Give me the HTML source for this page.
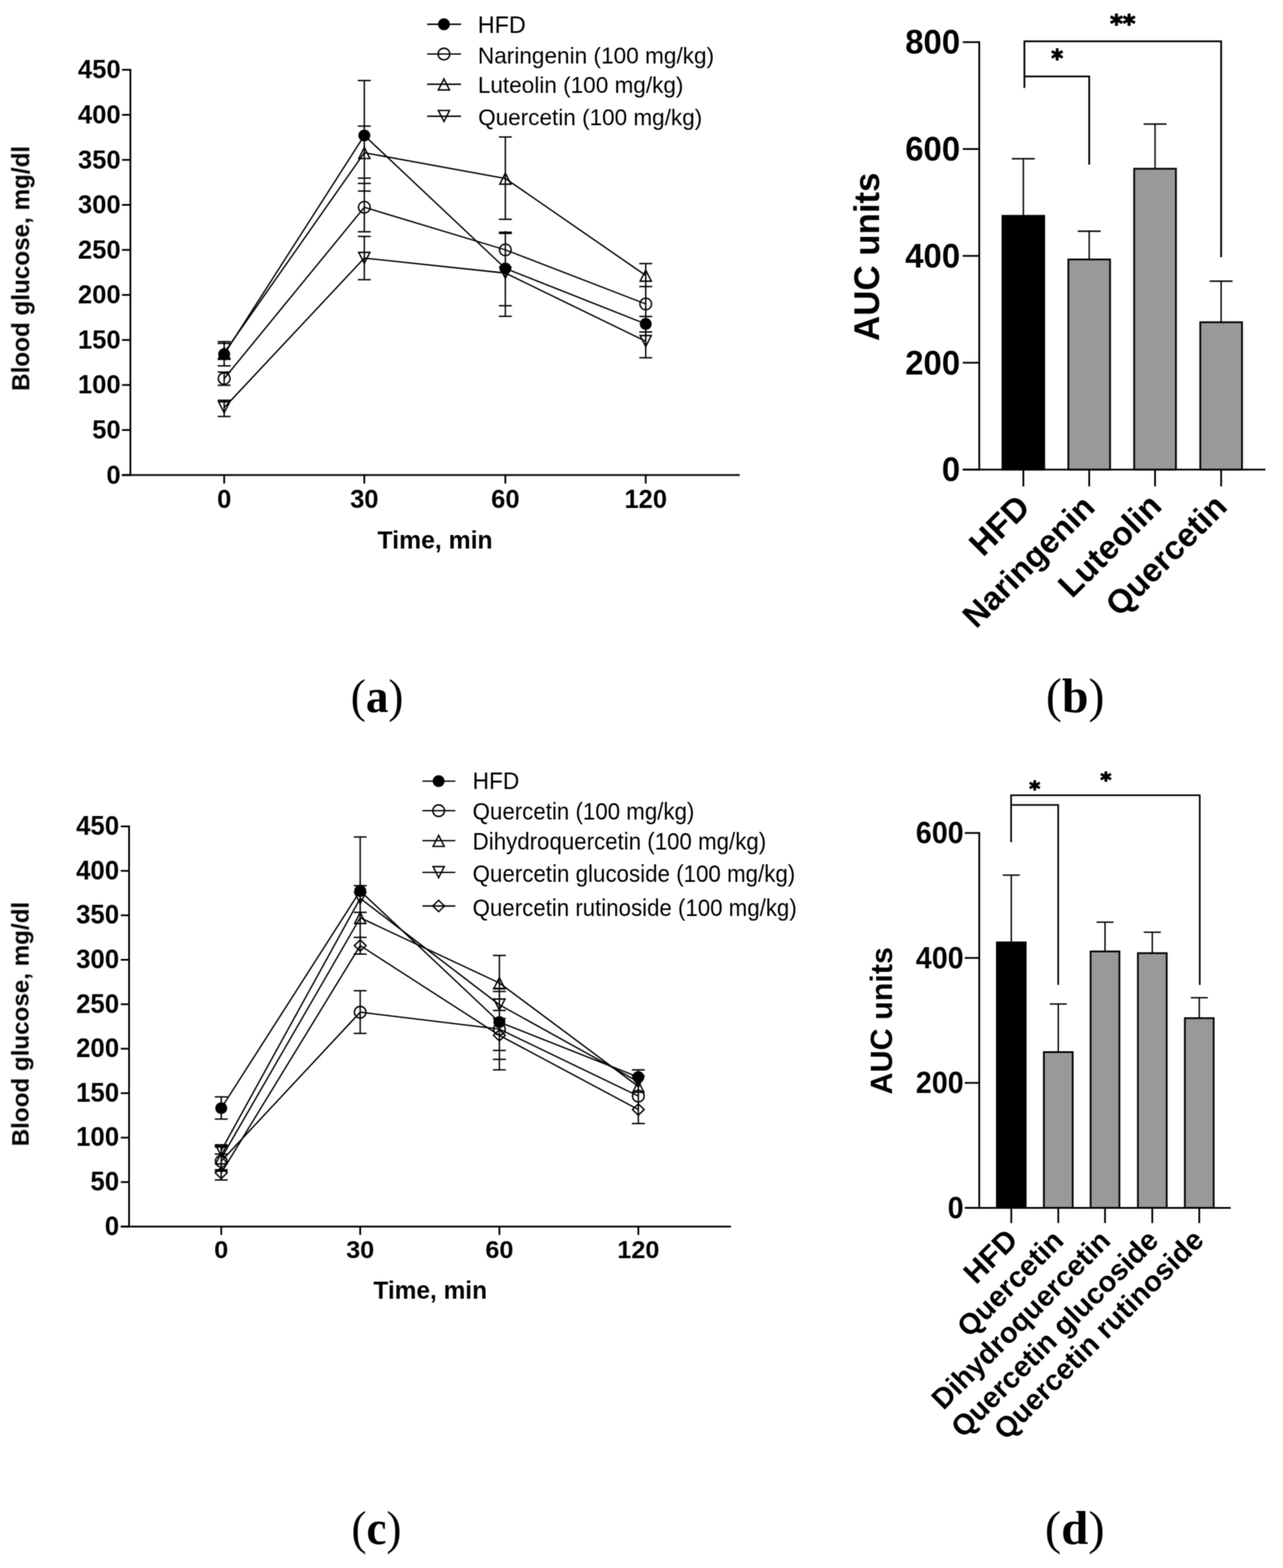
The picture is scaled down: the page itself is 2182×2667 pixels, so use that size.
<!DOCTYPE html><html><head><meta charset="utf-8"><title>Figure</title>
<style>html,body{margin:0;padding:0;background:#fff;}svg{display:block;}</style></head><body>
<svg width="2182" height="2667" viewBox="0 0 2182 2667">
<defs><filter id="soft" x="0" y="0" width="1" height="1" color-interpolation-filters="sRGB"><feConvolveMatrix order="3" kernelMatrix="1 2 1 2 4 2 1 2 1" divisor="16" edgeMode="duplicate"/></filter></defs>
<rect width="2182" height="2667" fill="#fff"/>
<g filter="url(#soft)">
<g stroke="#000" fill="#000" stroke-linecap="butt" font-family='"Liberation Sans", Arial, Helvetica, sans-serif'>
<line x1="221.75" y1="117.25" x2="221.75" y2="809.50" stroke-width="3.0"/>
<line x1="207.50" y1="808.00" x2="1258.00" y2="808.00" stroke-width="3.0"/>
<line x1="207.50" y1="808.00" x2="221.75" y2="808.00" stroke-width="3.0"/>
<text x="205.20" y="822.60" font-size="43.50" text-anchor="end" stroke="none" font-weight="bold" >0</text>
<line x1="207.50" y1="731.42" x2="221.75" y2="731.42" stroke-width="3.0"/>
<text x="205.20" y="746.02" font-size="43.50" text-anchor="end" stroke="none" font-weight="bold" >50</text>
<line x1="207.50" y1="654.83" x2="221.75" y2="654.83" stroke-width="3.0"/>
<text x="205.20" y="669.43" font-size="43.50" text-anchor="end" stroke="none" font-weight="bold" >100</text>
<line x1="207.50" y1="578.25" x2="221.75" y2="578.25" stroke-width="3.0"/>
<text x="205.20" y="592.85" font-size="43.50" text-anchor="end" stroke="none" font-weight="bold" >150</text>
<line x1="207.50" y1="501.67" x2="221.75" y2="501.67" stroke-width="3.0"/>
<text x="205.20" y="516.27" font-size="43.50" text-anchor="end" stroke="none" font-weight="bold" >200</text>
<line x1="207.50" y1="425.08" x2="221.75" y2="425.08" stroke-width="3.0"/>
<text x="205.20" y="439.68" font-size="43.50" text-anchor="end" stroke="none" font-weight="bold" >250</text>
<line x1="207.50" y1="348.50" x2="221.75" y2="348.50" stroke-width="3.0"/>
<text x="205.20" y="363.10" font-size="43.50" text-anchor="end" stroke="none" font-weight="bold" >300</text>
<line x1="207.50" y1="271.92" x2="221.75" y2="271.92" stroke-width="3.0"/>
<text x="205.20" y="286.52" font-size="43.50" text-anchor="end" stroke="none" font-weight="bold" >350</text>
<line x1="207.50" y1="195.33" x2="221.75" y2="195.33" stroke-width="3.0"/>
<text x="205.20" y="209.93" font-size="43.50" text-anchor="end" stroke="none" font-weight="bold" >400</text>
<line x1="207.50" y1="118.75" x2="221.75" y2="118.75" stroke-width="3.0"/>
<text x="205.20" y="133.35" font-size="43.50" text-anchor="end" stroke="none" font-weight="bold" >450</text>
<line x1="381.25" y1="808.00" x2="381.25" y2="822.50" stroke-width="3.0"/>
<text x="381.25" y="863.50" font-size="43.50" text-anchor="middle" stroke="none" font-weight="bold" >0</text>
<line x1="619.60" y1="808.00" x2="619.60" y2="822.50" stroke-width="3.0"/>
<text x="619.60" y="863.50" font-size="43.50" text-anchor="middle" stroke="none" font-weight="bold" >30</text>
<line x1="859.45" y1="808.00" x2="859.45" y2="822.50" stroke-width="3.0"/>
<text x="859.45" y="863.50" font-size="43.50" text-anchor="middle" stroke="none" font-weight="bold" >60</text>
<line x1="1098.20" y1="808.00" x2="1098.20" y2="822.50" stroke-width="3.0"/>
<text x="1098.20" y="863.50" font-size="43.50" text-anchor="middle" stroke="none" font-weight="bold" >120</text>
<text x="739.93" y="932.59" font-size="42.20" text-anchor="middle" stroke="none" font-weight="bold" textLength="195.79" lengthAdjust="spacingAndGlyphs" >Time, min</text>
<text x="50.19" y="456.46" font-size="41.62" text-anchor="middle" stroke="none" font-weight="bold" textLength="416.65" lengthAdjust="spacingAndGlyphs" transform="rotate(-90 50.19 456.46)" >Blood glucose, mg/dl</text>
<line x1="381.25" y1="581.10" x2="381.25" y2="622.30" stroke-width="2.35"/>
<line x1="381.25" y1="632.90" x2="381.25" y2="655.30" stroke-width="2.35"/>
<line x1="381.25" y1="680.80" x2="381.25" y2="708.40" stroke-width="2.35"/>
<line x1="370.25" y1="581.10" x2="392.25" y2="581.10" stroke-width="2.35"/>
<line x1="370.25" y1="584.10" x2="392.25" y2="584.10" stroke-width="2.35"/>
<line x1="370.25" y1="611.20" x2="392.25" y2="611.20" stroke-width="2.35"/>
<line x1="370.25" y1="622.30" x2="392.25" y2="622.30" stroke-width="2.35"/>
<line x1="370.25" y1="632.90" x2="392.25" y2="632.90" stroke-width="2.35"/>
<line x1="370.25" y1="655.30" x2="392.25" y2="655.30" stroke-width="2.35"/>
<line x1="370.25" y1="680.80" x2="392.25" y2="680.80" stroke-width="2.35"/>
<line x1="370.25" y1="708.40" x2="392.25" y2="708.40" stroke-width="2.35"/>
<line x1="619.60" y1="137.00" x2="619.60" y2="394.20" stroke-width="2.35"/>
<line x1="619.60" y1="402.10" x2="619.60" y2="475.70" stroke-width="2.35"/>
<line x1="608.60" y1="137.00" x2="630.60" y2="137.00" stroke-width="2.35"/>
<line x1="608.60" y1="214.50" x2="630.60" y2="214.50" stroke-width="2.35"/>
<line x1="608.60" y1="303.00" x2="630.60" y2="303.00" stroke-width="2.35"/>
<line x1="608.60" y1="312.00" x2="630.60" y2="312.00" stroke-width="2.35"/>
<line x1="608.60" y1="325.00" x2="630.60" y2="325.00" stroke-width="2.35"/>
<line x1="608.60" y1="394.20" x2="630.60" y2="394.20" stroke-width="2.35"/>
<line x1="608.60" y1="402.10" x2="630.60" y2="402.10" stroke-width="2.35"/>
<line x1="608.60" y1="475.70" x2="630.60" y2="475.70" stroke-width="2.35"/>
<line x1="859.45" y1="233.00" x2="859.45" y2="373.00" stroke-width="2.35"/>
<line x1="859.45" y1="393.00" x2="859.45" y2="538.00" stroke-width="2.35"/>
<line x1="848.45" y1="233.00" x2="870.45" y2="233.00" stroke-width="2.35"/>
<line x1="848.45" y1="373.00" x2="870.45" y2="373.00" stroke-width="2.35"/>
<line x1="848.45" y1="395.00" x2="870.45" y2="395.00" stroke-width="2.35"/>
<line x1="848.45" y1="397.00" x2="870.45" y2="397.00" stroke-width="2.35"/>
<line x1="848.45" y1="520.00" x2="870.45" y2="520.00" stroke-width="2.35"/>
<line x1="848.45" y1="538.00" x2="870.45" y2="538.00" stroke-width="2.35"/>
<line x1="1098.20" y1="448.30" x2="1098.20" y2="608.50" stroke-width="2.35"/>
<line x1="1087.20" y1="448.30" x2="1109.20" y2="448.30" stroke-width="2.35"/>
<line x1="1087.20" y1="487.40" x2="1109.20" y2="487.40" stroke-width="2.35"/>
<line x1="1087.20" y1="538.30" x2="1109.20" y2="538.30" stroke-width="2.35"/>
<line x1="1087.20" y1="564.70" x2="1109.20" y2="564.70" stroke-width="2.35"/>
<line x1="1087.20" y1="608.50" x2="1109.20" y2="608.50" stroke-width="2.35"/>
<polyline points="381.25,600.00 619.60,259.80 859.45,303.50 1098.20,468.50" fill="none" stroke-width="2.35"/>
<polyline points="381.25,693.30 619.60,439.00 859.45,464.50 1098.20,580.50" fill="none" stroke-width="2.35"/>
<polyline points="381.25,643.90 619.60,352.50 859.45,425.00 1098.20,517.00" fill="none" stroke-width="2.35"/>
<polyline points="381.25,602.50 619.60,230.40 859.45,456.60 1098.20,551.00" fill="none" stroke-width="2.35"/>
<path d="M381.25,591.00 L390.75,609.80 L371.75,609.80 Z" fill="none" stroke-width="2.4"/>
<path d="M619.60,250.80 L629.10,269.60 L610.10,269.60 Z" fill="none" stroke-width="2.4"/>
<path d="M859.45,294.50 L868.95,313.30 L849.95,313.30 Z" fill="none" stroke-width="2.4"/>
<path d="M1098.20,459.50 L1107.70,478.30 L1088.70,478.30 Z" fill="none" stroke-width="2.4"/>
<path d="M381.25,702.30 L390.75,683.50 L371.75,683.50 Z" fill="none" stroke-width="2.4"/>
<path d="M619.60,448.00 L629.10,429.20 L610.10,429.20 Z" fill="none" stroke-width="2.4"/>
<path d="M859.45,473.50 L868.95,454.70 L849.95,454.70 Z" fill="none" stroke-width="2.4"/>
<path d="M1098.20,589.50 L1107.70,570.70 L1088.70,570.70 Z" fill="none" stroke-width="2.4"/>
<circle cx="381.25" cy="643.90" r="9.9" fill="none" stroke-width="2.4"/>
<circle cx="619.60" cy="352.50" r="9.9" fill="none" stroke-width="2.4"/>
<circle cx="859.45" cy="425.00" r="9.9" fill="none" stroke-width="2.4"/>
<circle cx="1098.20" cy="517.00" r="9.9" fill="none" stroke-width="2.4"/>
<circle cx="381.25" cy="602.50" r="10.2" fill="#000" stroke="none"/>
<circle cx="619.60" cy="230.40" r="10.2" fill="#000" stroke="none"/>
<circle cx="859.45" cy="456.60" r="10.2" fill="#000" stroke="none"/>
<circle cx="1098.20" cy="551.00" r="10.2" fill="#000" stroke="none"/>
<line x1="726.50" y1="41.20" x2="784.10" y2="41.20" stroke-width="2.35"/>
<circle cx="755.00" cy="41.20" r="10.2" fill="#000" stroke="none"/>
<text x="812.60" y="56.18" font-size="41.22" text-anchor="start" stroke="none" font-weight="normal" textLength="81.74" lengthAdjust="spacingAndGlyphs" >HFD</text>
<line x1="726.50" y1="91.90" x2="784.10" y2="91.90" stroke-width="2.35"/>
<circle cx="755.00" cy="91.90" r="9.9" fill="none" stroke-width="2.4"/>
<text x="812.69" y="107.56" font-size="39.60" text-anchor="start" stroke="none" font-weight="normal" textLength="401.86" lengthAdjust="spacingAndGlyphs" >Naringenin (100 mg/kg)</text>
<line x1="726.50" y1="143.20" x2="784.10" y2="143.20" stroke-width="2.35"/>
<path d="M755.00,134.20 L764.50,153.00 L745.50,153.00 Z" fill="none" stroke-width="2.4"/>
<text x="812.70" y="157.88" font-size="39.60" text-anchor="start" stroke="none" font-weight="normal" textLength="349.68" lengthAdjust="spacingAndGlyphs" >Luteolin (100 mg/kg)</text>
<line x1="726.50" y1="197.70" x2="784.10" y2="197.70" stroke-width="2.35"/>
<path d="M755.00,206.70 L764.50,187.90 L745.50,187.90 Z" fill="none" stroke-width="2.4"/>
<text x="813.16" y="213.47" font-size="39.60" text-anchor="start" stroke="none" font-weight="normal" textLength="381.15" lengthAdjust="spacingAndGlyphs" >Quercetin (100 mg/kg)</text>
<line x1="1665.40" y1="70.20" x2="1665.40" y2="800.20" stroke-width="3.0"/>
<line x1="1637.40" y1="798.70" x2="2151.50" y2="798.70" stroke-width="3.0"/>
<line x1="1637.40" y1="798.70" x2="1665.40" y2="798.70" stroke-width="3.0"/>
<text x="1633.00" y="818.30" font-size="58.00" text-anchor="end" stroke="none" font-weight="bold" textLength="31.19" lengthAdjust="spacingAndGlyphs" >0</text>
<line x1="1637.40" y1="616.95" x2="1665.40" y2="616.95" stroke-width="3.0"/>
<text x="1633.00" y="636.55" font-size="58.00" text-anchor="end" stroke="none" font-weight="bold" textLength="93.58" lengthAdjust="spacingAndGlyphs" >200</text>
<line x1="1637.40" y1="435.20" x2="1665.40" y2="435.20" stroke-width="3.0"/>
<text x="1633.00" y="454.80" font-size="58.00" text-anchor="end" stroke="none" font-weight="bold" textLength="93.58" lengthAdjust="spacingAndGlyphs" >400</text>
<line x1="1637.40" y1="253.45" x2="1665.40" y2="253.45" stroke-width="3.0"/>
<text x="1633.00" y="273.05" font-size="58.00" text-anchor="end" stroke="none" font-weight="bold" textLength="93.58" lengthAdjust="spacingAndGlyphs" >600</text>
<line x1="1637.40" y1="71.70" x2="1665.40" y2="71.70" stroke-width="3.0"/>
<text x="1633.00" y="91.30" font-size="58.00" text-anchor="end" stroke="none" font-weight="bold" textLength="93.58" lengthAdjust="spacingAndGlyphs" >800</text>
<line x1="1740.40" y1="270.00" x2="1740.40" y2="367.60" stroke-width="2.35"/>
<line x1="1720.90" y1="270.00" x2="1759.90" y2="270.00" stroke-width="2.35"/>
<rect x="1704.90" y="367.10" width="71" height="431.60" fill="#000" stroke="#000" stroke-width="3"/>
<line x1="1852.40" y1="393.20" x2="1852.40" y2="441.80" stroke-width="2.35"/>
<line x1="1832.90" y1="393.20" x2="1871.90" y2="393.20" stroke-width="2.35"/>
<rect x="1816.90" y="441.30" width="71" height="357.40" fill="#999999" stroke="#000" stroke-width="3"/>
<line x1="1964.40" y1="211.00" x2="1964.40" y2="287.50" stroke-width="2.35"/>
<line x1="1944.90" y1="211.00" x2="1983.90" y2="211.00" stroke-width="2.35"/>
<rect x="1928.90" y="287.00" width="71" height="511.70" fill="#999999" stroke="#000" stroke-width="3"/>
<line x1="2076.80" y1="478.20" x2="2076.80" y2="548.60" stroke-width="2.35"/>
<line x1="2057.30" y1="478.20" x2="2096.30" y2="478.20" stroke-width="2.35"/>
<rect x="2041.30" y="548.10" width="71" height="250.60" fill="#999999" stroke="#000" stroke-width="3"/>
<line x1="1740.40" y1="798.70" x2="1740.40" y2="827.40" stroke-width="3.0"/>
<line x1="1852.40" y1="798.70" x2="1852.40" y2="827.40" stroke-width="3.0"/>
<line x1="1964.40" y1="798.70" x2="1964.40" y2="827.40" stroke-width="3.0"/>
<line x1="2076.80" y1="798.70" x2="2076.80" y2="827.40" stroke-width="3.0"/>
<path d="M1742.2,149.6 V70.3 H2076.8 V437.6 M1742.2,129.9 H1852.4 V280" fill="none" stroke-width="3"/>
<text x="1798.01" y="113.25" font-size="40.25" text-anchor="middle" stroke="#000" stroke-width="1.8" stroke-linejoin="round" font-weight="bold" font-family='"DejaVu Sans", sans-serif' textLength="19.93" lengthAdjust="spacingAndGlyphs" >*</text>
<text x="1909.50" y="54.31" font-size="40.48" text-anchor="middle" stroke="#000" stroke-width="1.8" stroke-linejoin="round" font-weight="bold" font-family='"DejaVu Sans", sans-serif' textLength="42.98" lengthAdjust="spacingAndGlyphs" >**</text>
<text x="1495.22" y="436.66" font-size="61.97" text-anchor="middle" stroke="none" font-weight="bold" textLength="286.48" lengthAdjust="spacingAndGlyphs" transform="rotate(-90 1495.22 436.66)" >AUC units</text>
<text x="1754.83" y="865.90" font-size="57.09" text-anchor="end" stroke="none" font-weight="bold" transform="rotate(-45 1754.83 865.90)" >HFD</text>
<text x="1865.07" y="865.69" font-size="55.53" text-anchor="end" stroke="none" font-weight="bold" transform="rotate(-45 1865.07 865.69)" >Naringenin</text>
<text x="1978.72" y="863.72" font-size="56.60" text-anchor="end" stroke="none" font-weight="bold" transform="rotate(-45 1978.72 863.72)" >Luteolin</text>
<text x="2089.83" y="864.73" font-size="56.42" text-anchor="end" stroke="none" font-weight="bold" transform="rotate(-45 2089.83 864.73)" >Quercetin</text>
<line x1="219.50" y1="1404.10" x2="219.50" y2="2087.75" stroke-width="3.0"/>
<line x1="205.50" y1="2086.25" x2="1243.20" y2="2086.25" stroke-width="3.0"/>
<line x1="205.50" y1="2086.25" x2="219.50" y2="2086.25" stroke-width="3.0"/>
<text x="202.60" y="2100.75" font-size="45.90" text-anchor="end" stroke="none" font-weight="bold" textLength="24.38" lengthAdjust="spacingAndGlyphs" >0</text>
<line x1="205.50" y1="2010.62" x2="219.50" y2="2010.62" stroke-width="3.0"/>
<text x="202.60" y="2025.12" font-size="45.90" text-anchor="end" stroke="none" font-weight="bold" textLength="48.76" lengthAdjust="spacingAndGlyphs" >50</text>
<line x1="205.50" y1="1934.99" x2="219.50" y2="1934.99" stroke-width="3.0"/>
<text x="202.60" y="1949.49" font-size="45.90" text-anchor="end" stroke="none" font-weight="bold" textLength="73.14" lengthAdjust="spacingAndGlyphs" >100</text>
<line x1="205.50" y1="1859.37" x2="219.50" y2="1859.37" stroke-width="3.0"/>
<text x="202.60" y="1873.87" font-size="45.90" text-anchor="end" stroke="none" font-weight="bold" textLength="73.14" lengthAdjust="spacingAndGlyphs" >150</text>
<line x1="205.50" y1="1783.74" x2="219.50" y2="1783.74" stroke-width="3.0"/>
<text x="202.60" y="1798.24" font-size="45.90" text-anchor="end" stroke="none" font-weight="bold" textLength="73.14" lengthAdjust="spacingAndGlyphs" >200</text>
<line x1="205.50" y1="1708.11" x2="219.50" y2="1708.11" stroke-width="3.0"/>
<text x="202.60" y="1722.61" font-size="45.90" text-anchor="end" stroke="none" font-weight="bold" textLength="73.14" lengthAdjust="spacingAndGlyphs" >250</text>
<line x1="205.50" y1="1632.48" x2="219.50" y2="1632.48" stroke-width="3.0"/>
<text x="202.60" y="1646.98" font-size="45.90" text-anchor="end" stroke="none" font-weight="bold" textLength="73.14" lengthAdjust="spacingAndGlyphs" >300</text>
<line x1="205.50" y1="1556.86" x2="219.50" y2="1556.86" stroke-width="3.0"/>
<text x="202.60" y="1571.36" font-size="45.90" text-anchor="end" stroke="none" font-weight="bold" textLength="73.14" lengthAdjust="spacingAndGlyphs" >350</text>
<line x1="205.50" y1="1481.23" x2="219.50" y2="1481.23" stroke-width="3.0"/>
<text x="202.60" y="1495.73" font-size="45.90" text-anchor="end" stroke="none" font-weight="bold" textLength="73.14" lengthAdjust="spacingAndGlyphs" >400</text>
<line x1="205.50" y1="1405.60" x2="219.50" y2="1405.60" stroke-width="3.0"/>
<text x="202.60" y="1420.10" font-size="45.90" text-anchor="end" stroke="none" font-weight="bold" textLength="73.14" lengthAdjust="spacingAndGlyphs" >450</text>
<line x1="376.25" y1="2086.25" x2="376.25" y2="2100.50" stroke-width="3.0"/>
<text x="376.25" y="2140.30" font-size="43.00" text-anchor="middle" stroke="none" font-weight="bold" >0</text>
<line x1="612.60" y1="2086.25" x2="612.60" y2="2100.50" stroke-width="3.0"/>
<text x="612.60" y="2140.30" font-size="43.00" text-anchor="middle" stroke="none" font-weight="bold" >30</text>
<line x1="849.30" y1="2086.25" x2="849.30" y2="2100.50" stroke-width="3.0"/>
<text x="849.30" y="2140.30" font-size="43.00" text-anchor="middle" stroke="none" font-weight="bold" >60</text>
<line x1="1085.60" y1="2086.25" x2="1085.60" y2="2100.50" stroke-width="3.0"/>
<text x="1085.60" y="2140.30" font-size="43.00" text-anchor="middle" stroke="none" font-weight="bold" >120</text>
<text x="731.70" y="2209.31" font-size="42.20" text-anchor="middle" stroke="none" font-weight="bold" textLength="193.17" lengthAdjust="spacingAndGlyphs" >Time, min</text>
<text x="48.56" y="1741.81" font-size="41.21" text-anchor="middle" stroke="none" font-weight="bold" textLength="415.79" lengthAdjust="spacingAndGlyphs" transform="rotate(-90 48.56 1741.81)" >Blood glucose, mg/dl</text>
<line x1="376.25" y1="1865.70" x2="376.25" y2="1903.40" stroke-width="2.35"/>
<line x1="376.25" y1="1949.40" x2="376.25" y2="2007.00" stroke-width="2.35"/>
<line x1="365.25" y1="1865.70" x2="387.25" y2="1865.70" stroke-width="2.35"/>
<line x1="365.25" y1="1903.40" x2="387.25" y2="1903.40" stroke-width="2.35"/>
<line x1="365.25" y1="1949.40" x2="387.25" y2="1949.40" stroke-width="2.35"/>
<line x1="365.25" y1="1951.00" x2="387.25" y2="1951.00" stroke-width="2.35"/>
<line x1="365.25" y1="1963.00" x2="387.25" y2="1963.00" stroke-width="2.35"/>
<line x1="365.25" y1="1989.70" x2="387.25" y2="1989.70" stroke-width="2.35"/>
<line x1="365.25" y1="1992.00" x2="387.25" y2="1992.00" stroke-width="2.35"/>
<line x1="365.25" y1="2007.00" x2="387.25" y2="2007.00" stroke-width="2.35"/>
<line x1="612.60" y1="1423.60" x2="612.60" y2="1622.80" stroke-width="2.35"/>
<line x1="612.60" y1="1685.10" x2="612.60" y2="1757.70" stroke-width="2.35"/>
<line x1="601.60" y1="1423.60" x2="623.60" y2="1423.60" stroke-width="2.35"/>
<line x1="601.60" y1="1506.40" x2="623.60" y2="1506.40" stroke-width="2.35"/>
<line x1="601.60" y1="1551.80" x2="623.60" y2="1551.80" stroke-width="2.35"/>
<line x1="601.60" y1="1594.40" x2="623.60" y2="1594.40" stroke-width="2.35"/>
<line x1="601.60" y1="1622.80" x2="623.60" y2="1622.80" stroke-width="2.35"/>
<line x1="601.60" y1="1685.10" x2="623.60" y2="1685.10" stroke-width="2.35"/>
<line x1="601.60" y1="1757.70" x2="623.60" y2="1757.70" stroke-width="2.35"/>
<line x1="849.30" y1="1625.10" x2="849.30" y2="1819.70" stroke-width="2.35"/>
<line x1="838.30" y1="1625.10" x2="860.30" y2="1625.10" stroke-width="2.35"/>
<line x1="838.30" y1="1681.10" x2="860.30" y2="1681.10" stroke-width="2.35"/>
<line x1="838.30" y1="1686.40" x2="860.30" y2="1686.40" stroke-width="2.35"/>
<line x1="838.30" y1="1718.70" x2="860.30" y2="1718.70" stroke-width="2.35"/>
<line x1="838.30" y1="1732.60" x2="860.30" y2="1732.60" stroke-width="2.35"/>
<line x1="838.30" y1="1786.70" x2="860.30" y2="1786.70" stroke-width="2.35"/>
<line x1="838.30" y1="1801.80" x2="860.30" y2="1801.80" stroke-width="2.35"/>
<line x1="838.30" y1="1819.70" x2="860.30" y2="1819.70" stroke-width="2.35"/>
<line x1="1085.60" y1="1819.80" x2="1085.60" y2="1911.00" stroke-width="2.35"/>
<line x1="1074.60" y1="1819.80" x2="1096.60" y2="1819.80" stroke-width="2.35"/>
<line x1="1074.60" y1="1911.00" x2="1096.60" y2="1911.00" stroke-width="2.35"/>
<polyline points="376.25,1995.00 612.60,1608.30 849.30,1761.00 1085.60,1887.20" fill="none" stroke-width="2.35"/>
<polyline points="376.25,1957.00 612.60,1528.00 849.30,1709.00 1085.60,1840.00" fill="none" stroke-width="2.35"/>
<polyline points="376.25,1970.00 612.60,1561.00 849.30,1672.00 1085.60,1848.00" fill="none" stroke-width="2.35"/>
<polyline points="376.25,1975.00 612.60,1721.60 849.30,1750.40 1085.60,1864.30" fill="none" stroke-width="2.35"/>
<polyline points="376.25,1884.90 612.60,1515.40 849.30,1738.50 1085.60,1832.00" fill="none" stroke-width="2.35"/>
<path d="M376.25,1985.40 L386.25,1995.00 L376.25,2004.60 L366.25,1995.00 Z" fill="none" stroke-width="2.4"/>
<path d="M612.60,1598.70 L622.60,1608.30 L612.60,1617.90 L602.60,1608.30 Z" fill="none" stroke-width="2.4"/>
<path d="M849.30,1751.40 L859.30,1761.00 L849.30,1770.60 L839.30,1761.00 Z" fill="none" stroke-width="2.4"/>
<path d="M1085.60,1877.60 L1095.60,1887.20 L1085.60,1896.80 L1075.60,1887.20 Z" fill="none" stroke-width="2.4"/>
<path d="M376.25,1966.00 L385.75,1947.20 L366.75,1947.20 Z" fill="none" stroke-width="2.4"/>
<path d="M612.60,1537.00 L622.10,1518.20 L603.10,1518.20 Z" fill="none" stroke-width="2.4"/>
<path d="M849.30,1718.00 L858.80,1699.20 L839.80,1699.20 Z" fill="none" stroke-width="2.4"/>
<path d="M1085.60,1849.00 L1095.10,1830.20 L1076.10,1830.20 Z" fill="none" stroke-width="2.4"/>
<path d="M376.25,1961.00 L385.75,1979.80 L366.75,1979.80 Z" fill="none" stroke-width="2.4"/>
<path d="M612.60,1552.00 L622.10,1570.80 L603.10,1570.80 Z" fill="none" stroke-width="2.4"/>
<path d="M849.30,1663.00 L858.80,1681.80 L839.80,1681.80 Z" fill="none" stroke-width="2.4"/>
<path d="M1085.60,1839.00 L1095.10,1857.80 L1076.10,1857.80 Z" fill="none" stroke-width="2.4"/>
<circle cx="376.25" cy="1975.00" r="9.9" fill="none" stroke-width="2.4"/>
<circle cx="612.60" cy="1721.60" r="9.9" fill="none" stroke-width="2.4"/>
<circle cx="849.30" cy="1750.40" r="9.9" fill="none" stroke-width="2.4"/>
<circle cx="1085.60" cy="1864.30" r="9.9" fill="none" stroke-width="2.4"/>
<circle cx="376.25" cy="1884.90" r="10.2" fill="#000" stroke="none"/>
<circle cx="612.60" cy="1515.40" r="10.2" fill="#000" stroke="none"/>
<circle cx="849.30" cy="1738.50" r="10.2" fill="#000" stroke="none"/>
<circle cx="1085.60" cy="1832.00" r="10.2" fill="#000" stroke="none"/>
<line x1="718.40" y1="1328.60" x2="774.40" y2="1328.60" stroke-width="2.35"/>
<circle cx="746.00" cy="1328.60" r="10.2" fill="#000" stroke="none"/>
<text x="803.80" y="1342.40" font-size="40.00" text-anchor="start" stroke="none" font-weight="normal" textLength="79.30" lengthAdjust="spacingAndGlyphs" >HFD</text>
<line x1="718.40" y1="1378.90" x2="774.40" y2="1378.90" stroke-width="2.35"/>
<circle cx="746.00" cy="1378.90" r="9.9" fill="none" stroke-width="2.4"/>
<text x="803.85" y="1394.40" font-size="40.00" text-anchor="start" stroke="none" font-weight="normal" textLength="377.11" lengthAdjust="spacingAndGlyphs" >Quercetin (100 mg/kg)</text>
<line x1="718.40" y1="1429.80" x2="774.40" y2="1429.80" stroke-width="2.35"/>
<path d="M746.00,1420.80 L755.50,1439.60 L736.50,1439.60 Z" fill="none" stroke-width="2.4"/>
<text x="803.86" y="1444.80" font-size="40.00" text-anchor="start" stroke="none" font-weight="normal" textLength="499.18" lengthAdjust="spacingAndGlyphs" >Dihydroquercetin (100 mg/kg)</text>
<line x1="718.40" y1="1483.80" x2="774.40" y2="1483.80" stroke-width="2.35"/>
<path d="M746.00,1492.80 L755.50,1474.00 L736.50,1474.00 Z" fill="none" stroke-width="2.4"/>
<text x="803.85" y="1499.70" font-size="40.00" text-anchor="start" stroke="none" font-weight="normal" textLength="548.63" lengthAdjust="spacingAndGlyphs" >Quercetin glucoside (100 mg/kg)</text>
<line x1="718.40" y1="1541.00" x2="774.40" y2="1541.00" stroke-width="2.35"/>
<path d="M746.00,1531.40 L756.00,1541.00 L746.00,1550.60 L736.00,1541.00 Z" fill="none" stroke-width="2.4"/>
<text x="803.85" y="1557.63" font-size="41.39" text-anchor="start" stroke="none" font-weight="normal" textLength="551.19" lengthAdjust="spacingAndGlyphs" >Quercetin rutinoside (100 mg/kg)</text>
<line x1="1665.40" y1="1415.30" x2="1665.40" y2="2055.90" stroke-width="3.0"/>
<line x1="1640.90" y1="2054.40" x2="2093.00" y2="2054.40" stroke-width="3.0"/>
<line x1="1640.90" y1="2054.40" x2="1665.40" y2="2054.40" stroke-width="3.0"/>
<text x="1638.90" y="2071.90" font-size="51.50" text-anchor="end" stroke="none" font-weight="bold" textLength="27.10" lengthAdjust="spacingAndGlyphs" >0</text>
<line x1="1640.90" y1="1841.87" x2="1665.40" y2="1841.87" stroke-width="3.0"/>
<text x="1638.90" y="1859.37" font-size="51.50" text-anchor="end" stroke="none" font-weight="bold" textLength="81.29" lengthAdjust="spacingAndGlyphs" >200</text>
<line x1="1640.90" y1="1629.33" x2="1665.40" y2="1629.33" stroke-width="3.0"/>
<text x="1638.90" y="1646.83" font-size="51.50" text-anchor="end" stroke="none" font-weight="bold" textLength="81.29" lengthAdjust="spacingAndGlyphs" >400</text>
<line x1="1640.90" y1="1416.80" x2="1665.40" y2="1416.80" stroke-width="3.0"/>
<text x="1638.90" y="1434.30" font-size="51.50" text-anchor="end" stroke="none" font-weight="bold" textLength="81.29" lengthAdjust="spacingAndGlyphs" >600</text>
<line x1="1719.90" y1="1488.50" x2="1719.90" y2="1603.40" stroke-width="2.35"/>
<line x1="1705.40" y1="1488.50" x2="1734.40" y2="1488.50" stroke-width="2.35"/>
<rect x="1695.40" y="1602.90" width="49" height="451.50" fill="#000" stroke="#000" stroke-width="3"/>
<line x1="1799.80" y1="1707.70" x2="1799.80" y2="1790.00" stroke-width="2.35"/>
<line x1="1785.30" y1="1707.70" x2="1814.30" y2="1707.70" stroke-width="2.35"/>
<rect x="1775.30" y="1789.50" width="49" height="264.90" fill="#999999" stroke="#000" stroke-width="3"/>
<line x1="1879.30" y1="1568.50" x2="1879.30" y2="1618.80" stroke-width="2.35"/>
<line x1="1864.80" y1="1568.50" x2="1893.80" y2="1568.50" stroke-width="2.35"/>
<rect x="1854.80" y="1618.30" width="49" height="436.10" fill="#999999" stroke="#000" stroke-width="3"/>
<line x1="1959.70" y1="1585.60" x2="1959.70" y2="1621.70" stroke-width="2.35"/>
<line x1="1945.20" y1="1585.60" x2="1974.20" y2="1585.60" stroke-width="2.35"/>
<rect x="1935.20" y="1621.20" width="49" height="433.20" fill="#999999" stroke="#000" stroke-width="3"/>
<line x1="2039.60" y1="1697.00" x2="2039.60" y2="1732.30" stroke-width="2.35"/>
<line x1="2025.10" y1="1697.00" x2="2054.10" y2="1697.00" stroke-width="2.35"/>
<rect x="2015.10" y="1731.80" width="49" height="322.60" fill="#999999" stroke="#000" stroke-width="3"/>
<line x1="1719.90" y1="2054.40" x2="1719.90" y2="2080.30" stroke-width="3.0"/>
<line x1="1799.80" y1="2054.40" x2="1799.80" y2="2080.30" stroke-width="3.0"/>
<line x1="1879.30" y1="2054.40" x2="1879.30" y2="2080.30" stroke-width="3.0"/>
<line x1="1959.70" y1="2054.40" x2="1959.70" y2="2080.30" stroke-width="3.0"/>
<line x1="2039.60" y1="2054.40" x2="2039.60" y2="2080.30" stroke-width="3.0"/>
<path d="M1719.6,1432.4 V1352.6 H2040.4 V1675.3 M1719.6,1369.1 H1799.7 V1675.3" fill="none" stroke-width="2.8"/>
<text x="1759.81" y="1353.30" font-size="33.92" text-anchor="middle" stroke="#000" stroke-width="1.8" stroke-linejoin="round" font-weight="bold" font-family='"DejaVu Sans", sans-serif' textLength="18.59" lengthAdjust="spacingAndGlyphs" >*</text>
<text x="1880.81" y="1337.79" font-size="33.51" text-anchor="middle" stroke="#000" stroke-width="1.8" stroke-linejoin="round" font-weight="bold" font-family='"DejaVu Sans", sans-serif' textLength="18.59" lengthAdjust="spacingAndGlyphs" >*</text>
<text x="1517.02" y="1736.19" font-size="52.27" text-anchor="middle" stroke="none" font-weight="bold" textLength="250.64" lengthAdjust="spacingAndGlyphs" transform="rotate(-90 1517.02 1736.19)" >AUC units</text>
<text x="1733.82" y="2112.01" font-size="51.02" text-anchor="end" stroke="none" font-weight="bold" transform="rotate(-45 1733.82 2112.01)" >HFD</text>
<text x="1811.56" y="2113.13" font-size="49.47" text-anchor="end" stroke="none" font-weight="bold" transform="rotate(-45 1811.56 2113.13)" >Quercetin</text>
<text x="1891.24" y="2113.20" font-size="48.98" text-anchor="end" stroke="none" font-weight="bold" transform="rotate(-45 1891.24 2113.20)" >Dihydroquercetin</text>
<text x="1972.94" y="2112.58" font-size="49.29" text-anchor="end" stroke="none" font-weight="bold" transform="rotate(-45 1972.94 2112.58)" >Quercetin glucoside</text>
<text x="2050.01" y="2112.02" font-size="49.07" text-anchor="end" stroke="none" font-weight="bold" transform="rotate(-45 2050.01 2112.02)" >Quercetin rutinoside</text>
</g>
<text x="641.38" y="1210.76" font-size="80.47" text-anchor="middle" stroke="none" font-family='"Liberation Serif", "Times New Roman", serif' textLength="89.64" lengthAdjust="spacingAndGlyphs" fill="#000">(<tspan font-weight="bold">a</tspan>)</text>
<text x="1828.55" y="1211.25" font-size="81.97" text-anchor="middle" stroke="none" font-family='"Liberation Serif", "Times New Roman", serif' textLength="99.37" lengthAdjust="spacingAndGlyphs" fill="#000">(<tspan font-weight="bold">b</tspan>)</text>
<text x="640.15" y="2625.53" font-size="80.42" text-anchor="middle" stroke="none" font-family='"Liberation Serif", "Times New Roman", serif' textLength="85.01" lengthAdjust="spacingAndGlyphs" fill="#000">(<tspan font-weight="bold">c</tspan>)</text>
<text x="1827.89" y="2625.54" font-size="79.36" text-anchor="middle" stroke="none" font-family='"Liberation Serif", "Times New Roman", serif' textLength="101.68" lengthAdjust="spacingAndGlyphs" fill="#000">(<tspan font-weight="bold">d</tspan>)</text>
</g>
</svg></body></html>
